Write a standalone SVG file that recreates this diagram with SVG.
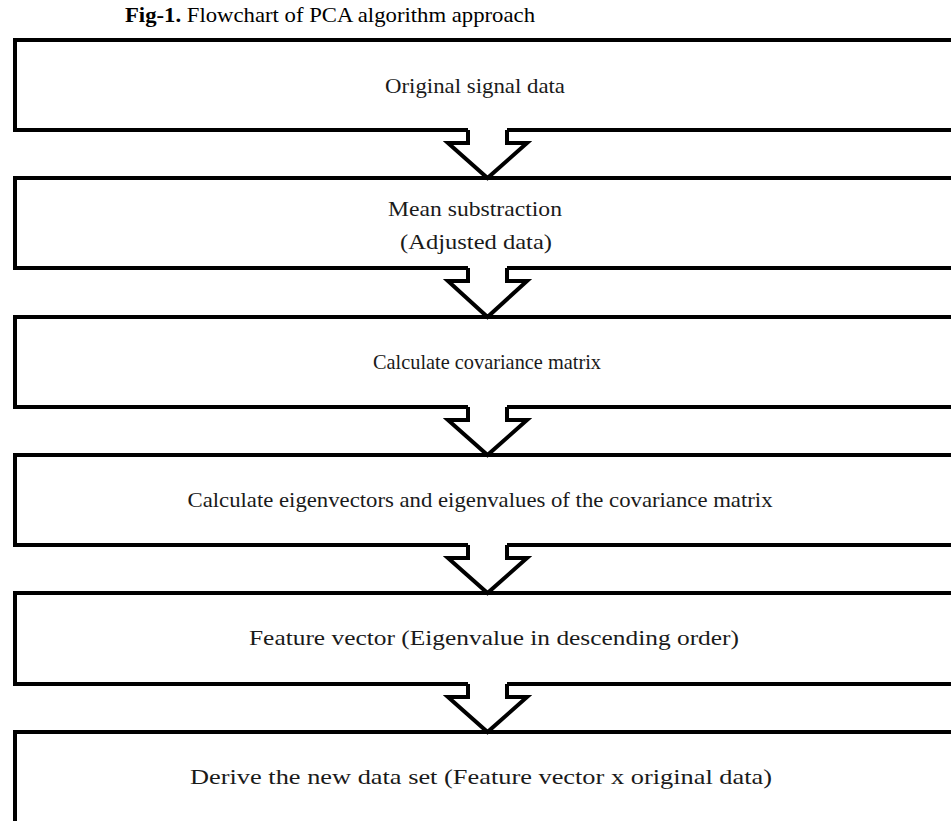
<svg xmlns="http://www.w3.org/2000/svg" width="951" height="821" viewBox="0 0 951 821">
<style>
.box{fill:none;stroke:#000;stroke-width:4;stroke-linejoin:miter}
.arr{fill:none;stroke:#000;stroke-width:4;stroke-linejoin:miter}
.t{font-family:"Liberation Serif","Times New Roman",serif;font-size:22px;fill:#1a1a1a;text-anchor:middle}
.title{font-family:"Liberation Serif","Times New Roman",serif;font-size:22px;fill:#000}
</style>
<rect width="951" height="821" fill="#fff"/>
<text class="title" x="125" y="22" textLength="410" lengthAdjust="spacingAndGlyphs"><tspan font-weight="bold">Fig-1.</tspan> Flowchart of PCA algorithm approach</text>
<g id="n1"><path class="box" d="M960,40 H15 V130 H468 M507,130 H960"/><text class="t" x="475" y="93" textLength="180" lengthAdjust="spacingAndGlyphs">Original signal data</text></g>
<g id="n2"><path class="box" d="M960,178 H15 V268 H468 M507,268 H960"/><text class="t" x="475" y="216" font-size="23" textLength="174" lengthAdjust="spacingAndGlyphs">Mean substraction</text><text class="t" x="476" y="249" font-size="23" textLength="152" lengthAdjust="spacingAndGlyphs">(Adjusted data)</text></g>
<g id="n3"><path class="box" d="M960,317 H15 V407 H468 M507,407 H960"/><text class="t" x="487" y="369" font-size="21" textLength="228" lengthAdjust="spacingAndGlyphs">Calculate covariance matrix</text></g>
<g id="n4"><path class="box" d="M960,455 H15 V545 H468 M507,545 H960"/><text class="t" x="480" y="507" textLength="585" lengthAdjust="spacingAndGlyphs">Calculate eigenvectors and eigenvalues of the covariance matrix</text></g>
<g id="n5"><path class="box" d="M960,593 H15 V684 H468 M507,684 H960"/><text class="t" x="494" y="645" font-size="23" textLength="490" lengthAdjust="spacingAndGlyphs">Feature vector (Eigenvalue in descending order)</text></g>
<g id="n6"><path class="box" d="M960,732 H15 V830"/><text class="t" x="481" y="784" font-size="25" textLength="582" lengthAdjust="spacingAndGlyphs">Derive the new data set (Feature vector x original data)</text></g>
<g id="connectors">
<path class="arr" d="M468,130 V143 H448 L487.5,178 L527,143 H507 V130"/>
<path class="arr" d="M468,268 V281 H448 L487.5,317 L527,281 H507 V268"/>
<path class="arr" d="M468,407 V420 H448 L487.5,455 L527,420 H507 V407"/>
<path class="arr" d="M468,545 V558 H448 L487.5,593 L527,558 H507 V545"/>
<path class="arr" d="M468,684 V697 H448 L487.5,732 L527,697 H507 V684"/>
</g>
</svg>
